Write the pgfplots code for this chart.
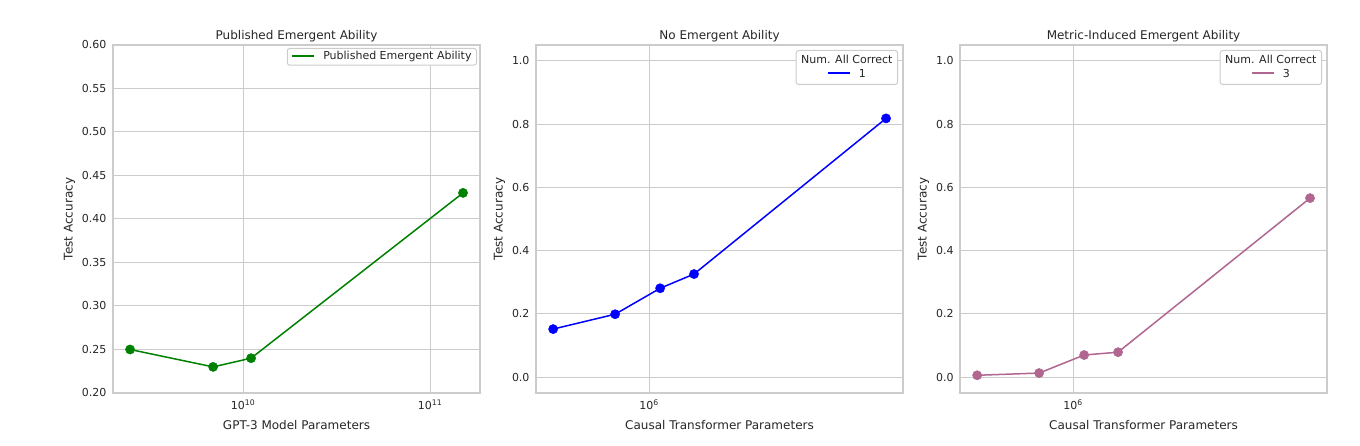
\documentclass[border=0pt]{standalone}
\usepackage{fontspec}
\setmainfont{DejaVu Sans}
\usepackage{pgfplots}
\pgfplotsset{compat=1.18}
\definecolor{txt}{HTML}{262626}
\definecolor{gridc}{HTML}{CCCCCC}
\definecolor{mplgreen}{RGB}{0,128,0}
\definecolor{mplblue}{RGB}{0,0,255}
\definecolor{mauve}{HTML}{B0668F}

\pgfplotsset{
  myax/.style={
    scale only axis, width=367pt, height=348pt, anchor=south west,
    axis line style={gridc, line width=1.25pt},
    grid=major, major grid style={gridc, line width=1pt},
    xminorgrids=false, yminorgrids=false,
    tick style={draw=none}, minor tick style={draw=none},
    major tick length=0pt, minor tick length=0pt,
    tick label style={font=\fontsize{11}{13}\selectfont, text=txt},
    xticklabel style={yshift=-3pt},
    yticklabel style={xshift=-3pt},
    label style={font=\fontsize{12}{14}\selectfont, text=txt},
    xlabel style={yshift=-4pt},
    title style={font=\fontsize{12}{14}\selectfont, text=txt, yshift=-7pt},
    every axis plot/.append style={line width=1.5pt, mark size=4.6pt, mark options={solid, line width=0.5pt}},
    ylabel={Test Accuracy},
  },
}
\tikzset{
  legnode/.style={draw=gridc, line width=1pt, rounded corners=2.5pt, fill=white, anchor=north east,
    inner xsep=5pt, inner ysep=3.5pt, font=\fontsize{11}{13}\selectfont, text=txt},
}

\begin{document}
\begin{tikzpicture}
\path (0,0) rectangle (1360pt,446pt);

% Panel 1
\begin{axis}[xmode=log, myax, at={(113pt,53pt)},
  title={Published Emergent Ability},
  xlabel={GPT-3 Model Parameters},
  xmin=2.018e9, xmax=1.849e11, ymin=0.2, ymax=0.6,
  xtick={1e10,1e11}, xticklabels={10\textsuperscript{10},10\textsuperscript{11}},
  ytick={0.2,0.25,0.3,0.35,0.4,0.45,0.5,0.55,0.6},
  yticklabels={0.20,0.25,0.30,0.35,0.40,0.45,0.50,0.55,0.60},
]
\addplot[mplgreen, mark=*] coordinates {
  (2.489e9,0.25) (6.92e9,0.23) (1.104e10,0.24) (1.5e11,0.43)};
\node[legnode, xshift=-3pt, yshift=-3pt, inner ysep=3pt] at (rel axis cs:1,1)
  {{\color{mplgreen}\rule[0.3em]{22pt}{1.5pt}}\hspace{9pt}Published Emergent Ability};
\end{axis}

% Panel 2
\begin{axis}[xmode=log, myax, at={(536pt,53pt)},
  title={No Emergent Ability},
  xlabel={Causal Transformer Parameters},
  xmin=4.2e5, xmax=7.03e6, ymin=-0.05, ymax=1.05,
  xtick={1e6}, xticklabels={10\textsuperscript{6}},
  ytick={0,0.2,0.4,0.6,0.8,1.0},
  yticklabels={0.0,0.2,0.4,0.6,0.8,1.0},
]
\addplot[mplblue, mark=*] coordinates {
  (4.79e5,0.152) (7.71e5,0.199) (1.089e6,0.281) (1.413e6,0.326) (6.17e6,0.818)};
\node[legnode, xshift=-5pt, yshift=-5pt] at (rel axis cs:1,1)
  {\begin{tabular}{@{}c@{}}Num. All Correct\\[1pt]{\color{mplblue}\rule[0.3em]{22pt}{1.5pt}}\hspace{9pt}1\end{tabular}};
\end{axis}

% Panel 3
\begin{axis}[xmode=log, myax, at={(960pt,53pt)},
  title={Metric-Induced Emergent Ability},
  xlabel={Causal Transformer Parameters},
  xmin=4.2e5, xmax=7.03e6, ymin=-0.05, ymax=1.05,
  xtick={1e6}, xticklabels={10\textsuperscript{6}},
  ytick={0,0.2,0.4,0.6,0.8,1.0},
  yticklabels={0.0,0.2,0.4,0.6,0.8,1.0},
]
\addplot[mauve, mark=*] coordinates {
  (4.79e5,0.006) (7.71e5,0.013) (1.089e6,0.070) (1.413e6,0.079) (6.17e6,0.566)};
\node[legnode, xshift=-5pt, yshift=-5pt] at (rel axis cs:1,1)
  {\begin{tabular}{@{}c@{}}Num. All Correct\\[1pt]{\color{mauve}\rule[0.3em]{22pt}{1.5pt}}\hspace{9pt}3\end{tabular}};
\end{axis}
\end{tikzpicture}
\end{document}
